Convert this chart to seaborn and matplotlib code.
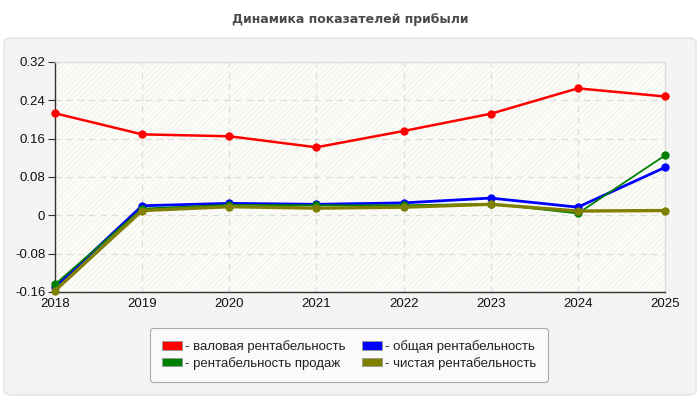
import matplotlib
import matplotlib.pyplot as plt
import pandas as pd
import seaborn as sns
from matplotlib.patches import FancyBboxPatch, Rectangle

matplotlib.use('Agg')

# данные
years = [2018, 2019, 2020, 2021, 2022, 2023, 2024, 2025]
gross = [0.213, 0.169, 0.165, 0.142, 0.176, 0.212, 0.265, 0.248]
general = [-0.150, 0.020, 0.025, 0.023, 0.026, 0.036, 0.017, 0.100]
sales = [-0.144, 0.014, 0.022, 0.021, 0.021, 0.024, 0.004, 0.125]
net = [-0.157, 0.010, 0.018, 0.015, 0.017, 0.023, 0.009, 0.010]

names = ['валовая рентабельность', 'общая рентабельность',
         'рентабельность продаж', 'чистая рентабельность']
colors = ['#ff0000', '#0000ff', '#008000', '#808000']
widths = [1.8, 2.0, 1.3, 2.4]
yticks = [-0.16, -0.08, 0, 0.08, 0.16, 0.24, 0.32]
ytick_labels = ['-0.16', '-0.08', '0', '0.08', '0.16', '0.24', '0.32']

df = pd.DataFrame({'year': years * 4,
                   'value': gross + general + sales + net,
                   'series': sum([[n] * len(years) for n in names], [])})

sns.set_style('white')
plt.rcParams['font.family'] = ['Liberation Sans', 'DejaVu Sans']
plt.rcParams['hatch.color'] = '#efefec'
plt.rcParams['hatch.linewidth'] = 0.6

fig = plt.figure(figsize=(7, 4), dpi=100)
fig.patch.set_facecolor('white')

# серая панель
panel = FancyBboxPatch((4 / 700, 5 / 400), 692 / 700, 357 / 400,
                       boxstyle='round,pad=0,rounding_size=0.012',
                       transform=fig.transFigure, facecolor='#f4f4f4',
                       edgecolor='#e2e2e2', linewidth=1, zorder=-5)
fig.patches.append(panel)

fig.text(0.5, 1 - 20 / 400, 'Динамика показателей прибыли', ha='center', va='center',
         fontsize=9, fontweight='bold', color='#4a4a4a', family=['DejaVu Sans'])

ax = fig.add_axes([55 / 700, 108 / 400, 610 / 700, 230 / 400])
ax.set_zorder(1)
ax.set_facecolor('#fdfdf7')
ax.add_patch(Rectangle((0, 0), 1, 1, transform=ax.transAxes, facecolor='none',
                       hatch='//////', edgecolor='#efefec', linewidth=0, zorder=0))

for name, c, lw in zip(names, colors, widths):
    sns.lineplot(data=df[df['series'] == name], x='year', y='value', color=c,
                 linewidth=lw, marker='o', markersize=6, markeredgewidth=0,
                 ax=ax, legend=False, zorder=3, clip_on=False)

ax.set_xlim(2018, 2025)
ax.set_ylim(-0.16, 0.32)
ax.set_xticks(years)
ax.set_yticks(yticks)
ax.set_yticklabels(ytick_labels)
ax.set_xlabel('')
ax.set_ylabel('')
ax.grid(True, linestyle=(0, (5, 4)), color='#dddddd', linewidth=0.9)
ax.tick_params(axis='both', labelsize=9.5, colors='#333333', width=0.8,
               direction='out', left=True, bottom=True, labelcolor='#111111')
ax.tick_params(axis='y', length=5, pad=2)
ax.tick_params(axis='x', length=0, pad=4)
for s in ['left', 'bottom']:
    ax.spines[s].set_color('#333333')
    ax.spines[s].set_linewidth(1)
for s in ['top', 'right']:
    ax.spines[s].set_color('#dddddd')
    ax.spines[s].set_linewidth(1)

handles = [FancyBboxPatch((0, 0), 1, 1, boxstyle='round,pad=0.1', facecolor=c,
                          edgecolor='#999999', linewidth=0.6) for c in colors]
labels = ['- ' + n for n in names]
order = [0, 2, 1, 3]
leg = fig.legend([handles[i] for i in order], [labels[i] for i in order],
                 ncol=2, loc='center', bbox_to_anchor=(349 / 700, 1 - 355 / 400),
                 fontsize=9.5, frameon=True, fancybox=True, handlelength=1.5,
                 handleheight=0.6, handletextpad=0.2, columnspacing=1.3,
                 labelspacing=0.3, borderpad=0.9, borderaxespad=0)
leg.set_zorder(2)
leg.get_frame().set_facecolor('#fafafa')
leg.get_frame().set_edgecolor('#aaaaaa')
leg.get_frame().set_linewidth(0.8)
leg.get_frame().set_alpha(1)
for t in leg.get_texts():
    t.set_color('#222222')

plt.savefig('out.png', dpi=100)
